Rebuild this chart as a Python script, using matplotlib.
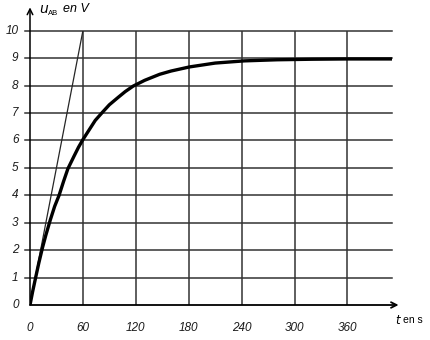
import matplotlib.pyplot as plt

plt.rcParams["font.family"] = ["Liberation Sans", "DejaVu Sans"]

# charge curve u_AB(t)
t_s = [0, 3, 7, 10, 14, 18, 23, 28, 33, 38, 43, 50, 55, 60, 66, 74, 82, 90,
       100, 108, 117, 130, 147, 160, 181, 210, 243, 280, 320, 360, 411]
u_ab = [0, 0.49, 1.09, 1.53, 2.07, 2.55, 3.1, 3.6, 4.0, 4.5, 4.97, 5.43,
        5.75, 6.03, 6.33, 6.73, 7.02, 7.3, 7.57, 7.78, 7.98, 8.19, 8.41, 8.53,
        8.68, 8.82, 8.9, 8.94, 8.96, 8.97, 8.97]

# tangent at the origin
tangent_t = [0, 60]
tangent_u = [0, 10]

x_ticks = [0, 60, 120, 180, 240, 300, 360]
y_ticks = list(range(0, 11))
t_max = 411
u_max = 10

fig = plt.figure(figsize=(4.3, 3.4), dpi=100)
ax = fig.add_axes([30 / 430, 35 / 340, 362.4 / 430, 274.3 / 340])
ax.set_xlim(0, t_max)
ax.set_ylim(0, u_max)

grid_kw = dict(color="0.2", lw=1.1, zorder=1)
for x in x_ticks[1:]:
    ax.plot([x, x], [0, u_max], **grid_kw)
for y in y_ticks[1:]:
    ax.plot([-6, t_max], [y, y], clip_on=False, **grid_kw)

ax.plot(tangent_t, tangent_u, color="0.15", lw=0.9, zorder=2)
ax.plot(t_s, u_ab, color="black", lw=2.4, solid_capstyle="round",
        solid_joinstyle="round", zorder=3)

# axes with arrow heads
ax.annotate("", xy=(0, 10.85), xytext=(0, 0), xycoords="data",
            arrowprops=dict(arrowstyle="->", color="black", lw=1.1,
                            mutation_scale=10, shrinkA=0, shrinkB=0),
            annotation_clip=False)
ax.annotate("", xy=(418, 0), xytext=(0, 0), xycoords="data",
            arrowprops=dict(arrowstyle="->", color="black", lw=1.3,
                            mutation_scale=10, shrinkA=0, shrinkB=0),
            annotation_clip=False)

for s in ax.spines.values():
    s.set_visible(False)
ax.set_xticks([])
ax.set_yticks([])

lab_kw = dict(fontsize=8.5, style="italic", color="0.1")
for y in y_ticks:
    ax.text(-13, y, str(y), ha="right", va="center", **lab_kw)
for x in x_ticks:
    ax.text(x, -0.85, str(x), ha="center", va="center", **lab_kw)

ax.text(10, 10.8, r"$u$", fontsize=10, ha="left", va="center")
ax.text(20.5, 10.62, "AB", fontsize=5.5, ha="left", va="center")
ax.text(37, 10.8, "en V", fontsize=9, style="italic", ha="left", va="center")
ax.text(414, -0.55, r"$t$", fontsize=8.5, ha="left", va="center")
ax.text(423, -0.55, "en s", fontsize=7.5, ha="left", va="center")

fig.savefig("out.png", dpi=100)
